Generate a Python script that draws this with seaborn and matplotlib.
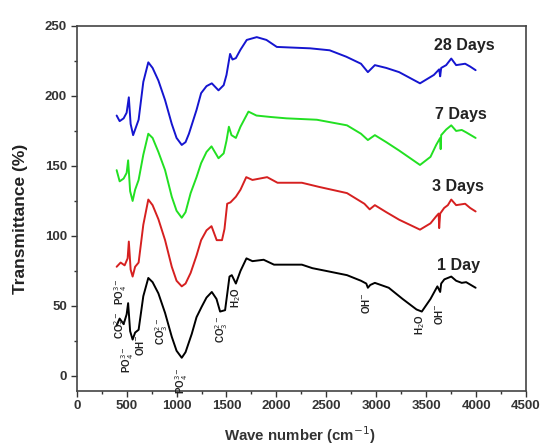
import numpy as np
import pandas as pd
import matplotlib
matplotlib.use("Agg")
import matplotlib.pyplot as plt
import seaborn as sns
from matplotlib.ticker import MultipleLocator

# ---- data ----
x_1day = [400, 430, 470, 500, 515, 535, 560, 585, 620, 667, 717, 760, 818, 885, 952, 1000, 1052, 1090, 1152,
          1200, 1252, 1300, 1353, 1400, 1436, 1486, 1510, 1530, 1553, 1594, 1640, 1700, 1760, 1872, 1976, 2255, 2360,
          2500, 2707, 2847, 2900, 2916, 2940, 2986, 3125, 3264, 3403, 3456, 3543, 3612, 3640, 3650, 3682, 3751, 3800,
          3856, 3900, 3995]
y_1day = [36, 41, 37, 44, 52, 32, 26, 31, 33, 57, 70, 67, 59, 45, 28, 18, 13, 17, 30,
          42, 49.5, 56, 60, 55, 46, 47, 60, 71, 72, 66, 75, 84, 82, 83, 79.5, 79.5, 77,
          75, 72, 68, 66, 63, 65, 66.5, 63, 55, 47.5, 46, 55, 64, 60, 66, 69, 71, 68,
          66.5, 67, 63]

x_3day = [400, 440, 480, 510, 522, 540, 560, 585, 620, 667, 717, 760, 818, 885, 952, 1000, 1052, 1090, 1141, 1200,
          1246, 1300, 1350, 1402, 1455, 1480, 1507, 1540, 1594, 1640, 1698, 1760, 1907, 2011, 2255, 2429, 2707, 2881,
          2934, 2986, 3100, 3229, 3438, 3543, 3600, 3625, 3630, 3640, 3680, 3717, 3751, 3800, 3890, 3940, 3995]
y_3day = [78, 81, 79, 84, 96, 76, 71, 78, 81, 108, 126, 122, 112, 97, 78, 68, 64, 66, 73.6, 86,
          97, 104, 107, 97, 97, 105, 123, 124, 128, 133, 142, 140, 142, 138, 138, 135, 130.6, 123,
          119, 122, 117, 111.6, 104.5, 109, 114, 116, 105.6, 116, 120, 122, 126, 122, 123, 120, 117.5]

x_7day = [400, 430, 470, 500, 515, 535, 560, 585, 620, 667, 717, 760, 818, 885, 952, 1000, 1052, 1090, 1141, 1200,
          1246, 1300, 1350, 1420, 1472, 1500, 1524, 1550, 1594, 1640, 1720, 1800, 1937, 2100, 2405, 2707, 2847, 2916,
          2986, 3100, 3229, 3438, 3543, 3600, 3640, 3645, 3650, 3700, 3751, 3800, 3856, 3900, 3995]
y_7day = [147, 139, 141, 145, 154, 132, 125, 133, 140, 158, 173, 170, 160, 147, 128, 118, 113, 117, 130.6, 142,
          152, 160, 164, 155.5, 159, 168, 178, 172, 170, 178, 188.8, 186, 185, 184, 183, 179, 173, 168.5,
          172, 167, 161, 150.7, 156.5, 165, 170, 162, 172, 176, 179, 175, 175.7, 174, 170]

x_28day = [400, 430, 470, 500, 522, 540, 565, 585, 620, 667, 717, 760, 818, 885, 952, 1000, 1052, 1090, 1124, 1200,
           1246, 1300, 1353, 1420, 1472, 1500, 1536, 1560, 1594, 1640, 1703, 1803, 1900, 2004, 2338, 2533, 2700, 2847,
           2916, 2986, 3100, 3229, 3438, 3577, 3630, 3640, 3650, 3700, 3751, 3800, 3890, 3940, 3995]
y_28day = [186, 182, 184, 188, 199, 180, 172, 176, 183, 210, 224, 220, 211, 197, 180, 170, 165, 167, 173, 190,
           202, 207, 209, 204, 207.7, 215, 230, 226, 227, 233, 240, 242, 240, 235, 234, 232.6, 228, 223,
           217, 222, 220, 217, 209, 215, 219, 214, 220, 222, 226.7, 222, 223, 221, 218.4]

series_names = ["1 Day", "3 Days", "7 Days", "28 Days"]
series_colors = ["#000000", "#d62020", "#22e022", "#1515d0"]
label_pos = [(3605, 79), (3560, 135), (3593, 187), (3576, 236)]

band_labels = ["PO$_4^{3-}$", "CO$_3^{2-}$", "PO$_4^{3-}$", "OH$^{-}$", "CO$_3^{2-}$", "PO$_4^{3-}$",
               "CO$_3^{2-}$", "H$_2$O", "OH$^{-}$", "H$_2$O", "OH$^{-}$"]
band_pos = [(440, 60), (440, 36), (505, 12), (630, 22), (850, 32), (1054, -3),
            (1455, 33), (1594, 56), (2900, 52), (3438, 37), (3630, 44)]

# ---- long-form table ----
frames = []
for name, xs, ys in zip(series_names, [x_1day, x_3day, x_7day, x_28day],
                        [y_1day, y_3day, y_7day, y_28day]):
    frames.append(pd.DataFrame({"x": xs, "y": ys, "series": name}))
df = pd.concat(frames, ignore_index=True)

sns.set_style("white")
plt.rcParams["font.family"] = ["Liberation Sans", "DejaVu Sans"]

fig = plt.figure(figsize=(5.44, 4.47), dpi=100)
ax = fig.add_axes([0.141, 0.126, 0.826, 0.816])

sns.lineplot(data=df, x="x", y="y", hue="series", palette=dict(zip(series_names, series_colors)),
             estimator=None, sort=False, units="series", linewidth=1.4, legend=False, ax=ax)

ax.set_xlim(0, 4500)
ax.set_ylim(-10.5, 250)
ax.xaxis.set_major_locator(MultipleLocator(500))
ax.xaxis.set_minor_locator(MultipleLocator(250))
ax.yaxis.set_major_locator(MultipleLocator(50))
ax.yaxis.set_minor_locator(MultipleLocator(25))
ax.tick_params(axis="both", which="major", direction="out", length=4, width=1, color="#333333",
               labelsize=9.5, labelcolor="#333333", bottom=True, left=True, top=False, right=False, pad=3)
ax.tick_params(axis="both", which="minor", direction="out", length=2.5, width=1, color="#333333",
               bottom=True, left=True, top=False, right=False)
for lbl in ax.get_xticklabels() + ax.get_yticklabels():
    lbl.set_fontweight("bold")
for sp in ax.spines.values():
    sp.set_color("#444444")
    sp.set_linewidth(1.2)

ax.set_xlabel("Wave number (cm$^{-1}$)", fontsize=10.8, fontweight="bold", color="#333333")
ax.set_ylabel("Transmittance (%)", fontsize=12.5, fontweight="bold", color="#222222")
ax.xaxis.set_label_coords(0.497, -0.093)
ax.yaxis.set_label_coords(-0.108, 0.47)

for name, (lx, ly) in zip(series_names, label_pos):
    ax.text(lx, ly, name, fontsize=11.5, fontweight="bold", color="#222222", va="center", ha="left")

for txt, (bx, by) in zip(band_labels, band_pos):
    ax.text(bx, by, txt, rotation=90, fontsize=7, fontweight="bold", color="#222222",
            ha="center", va="center")

fig.savefig("out.png", dpi=100)
